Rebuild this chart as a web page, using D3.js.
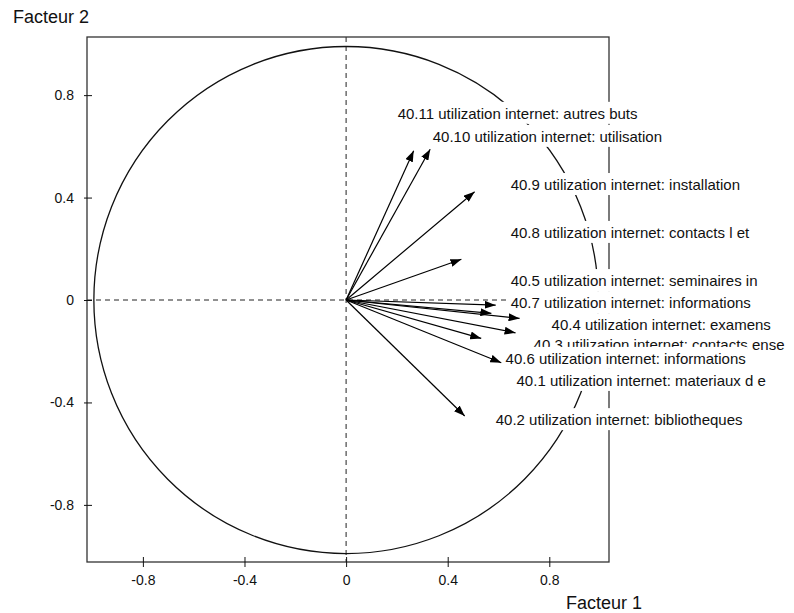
<!DOCTYPE html>
<html>
<head>
<meta charset="utf-8">
<script src="https://cdn.jsdelivr.net/npm/d3@7"></script>
<style>
  html, body { margin: 0; padding: 0; background: #fff; }
  svg { display: block; }
  text { font-family: "Liberation Sans", Arial, sans-serif; fill: #111; }
</style>
</head>
<body>
<svg id="chart" width="794" height="613"></svg>
<script>
// ---- data ----
const variables = ["40.11", "40.10", "40.9", "40.8", "40.5", "40.7", "40.4", "40.3", "40.1", "40.6", "40.2"];
const labels = [
  "40.11 utilization internet: autres buts",
  "40.10 utilization internet: utilisation",
  "40.9 utilization internet: installation",
  "40.8 utilization internet: contacts l et",
  "40.5 utilization internet: seminaires in",
  "40.7 utilization internet: informations",
  "40.4 utilization internet: examens",
  "40.3 utilization internet: contacts ense",
  "40.1 utilization internet: materiaux d e",
  "40.6 utilization internet: informations",
  "40.2 utilization internet: bibliotheques"
];
const factor1 = [0.266, 0.331, 0.506, 0.454, 0.589, 0.572, 0.683, 0.667, 0.532, 0.611, 0.467];
const factor2 = [0.583, 0.589, 0.423, 0.159, -0.020, -0.052, -0.072, -0.128, -0.150, -0.245, -0.453];
const tickValues = [-0.8, -0.4, 0, 0.4, 0.8];
const tickLabels = ["-0.8", "-0.4", "0", "0.4", "0.8"];
const axisTitleX = "Facteur 1";
const axisTitleY = "Facteur 2";

// ---- layout (label anchor: text start, vertical centre; in data units) ----
const labelPos = {
  "40.11": [0.203, 0.727],
  "40.10": [0.341, 0.637],
  "40.9":  [0.648, 0.449],
  "40.8":  [0.648, 0.262],
  "40.5":  [0.648, 0.074],
  "40.7":  [0.648, -0.012],
  "40.4":  [0.809, -0.098],
  "40.3":  [0.738, -0.176],
  "40.6":  [0.628, -0.230],
  "40.1":  [0.671, -0.316],
  "40.2":  [0.589, -0.469]
};
const drawOrder = ["40.11", "40.10", "40.9", "40.8", "40.5", "40.7", "40.4", "40.3", "40.6", "40.1", "40.2"];

// ---- chart ----
const svg = d3.select("#chart");
const x = d3.scaleLinear().domain([-1.020, 1.035]).range([87, 609]);
const y = d3.scaleLinear().domain([-1.023, 1.027]).range([562, 37]);

// dashed zero lines
svg.append("line").attr("x1", x.range()[0]).attr("x2", x.range()[1])
  .attr("y1", y(0)).attr("y2", y(0))
  .attr("stroke", "#222").attr("stroke-width", 1).attr("stroke-dasharray", "5,4");
svg.append("line").attr("x1", x(0)).attr("x2", x(0))
  .attr("y1", y.range()[1]).attr("y2", y.range()[0])
  .attr("stroke", "#222").attr("stroke-width", 1).attr("stroke-dasharray", "5,4");

// correlation circle
svg.append("ellipse")
  .attr("cx", x(0)).attr("cy", y(0))
  .attr("rx", (x(1) - x(0)) * 0.993).attr("ry", (y(0) - y(1)) * 0.99)
  .attr("fill", "none").attr("stroke", "#111").attr("stroke-width", 1.3);

// frame
svg.append("rect")
  .attr("x", x.range()[0]).attr("y", y.range()[1])
  .attr("width", x.range()[1] - x.range()[0]).attr("height", y.range()[0] - y.range()[1])
  .attr("fill", "none").attr("stroke", "#333").attr("stroke-width", 1.3);

// axes
const xAxis = d3.axisBottom(x).tickValues(tickValues)
  .tickFormat((d, i) => tickLabels[i]).tickSizeInner(5).tickSizeOuter(0).tickPadding(8);
const gx = svg.append("g").attr("transform", `translate(0,${y.range()[0]})`).call(xAxis);
gx.select(".domain").remove();
gx.selectAll(".tick line").attr("y1", -5).attr("y2", 5).attr("stroke", "#111");
gx.selectAll(".tick text").attr("font-size", 14).attr("fill", "#111")
  .attr("font-family", "Liberation Sans, Arial, sans-serif");

const yAxis = d3.axisLeft(y).tickValues(tickValues)
  .tickFormat((d, i) => tickLabels[i]).tickSizeInner(4).tickSizeOuter(0).tickPadding(9);
const gy = svg.append("g").attr("transform", `translate(${x.range()[0]},0)`).call(yAxis);
gy.select(".domain").remove();
gy.selectAll(".tick line").attr("x1", -3).attr("x2", 5).attr("stroke", "#111");
gy.selectAll(".tick text").attr("font-size", 14).attr("fill", "#111")
  .attr("font-family", "Liberation Sans, Arial, sans-serif");

// arrowhead marker
svg.append("defs").append("marker")
  .attr("id", "head").attr("viewBox", "0 0 11 8")
  .attr("refX", 11).attr("refY", 4)
  .attr("markerWidth", 11).attr("markerHeight", 8)
  .attr("markerUnits", "userSpaceOnUse")
  .attr("orient", "auto")
  .append("path").attr("d", "M0,0 L11,4 L0,8 Z").attr("fill", "#000");

// arrows
svg.append("g").selectAll("line").data(variables).join("line")
  .attr("x1", x(0)).attr("y1", y(0))
  .attr("x2", (d, i) => x(factor1[i])).attr("y2", (d, i) => y(factor2[i]))
  .attr("stroke", "#000").attr("stroke-width", 1.2)
  .attr("marker-end", "url(#head)");

// labels with white background
const lg = svg.append("g");
drawOrder.forEach(v => {
  const i = variables.indexOf(v);
  const [lx, ly] = labelPos[v];
  const g = lg.append("g");
  const bg = g.append("rect").attr("fill", "#fff");
  const t = g.append("text")
    .attr("x", x(lx)).attr("y", y(ly))
    .attr("dy", "0.35em")
    .attr("font-size", 15)
    .text(labels[i]);
  const bb = t.node().getBBox();
  bg.attr("x", bb.x - 2).attr("y", y(ly) - 12).attr("width", bb.width + 4).attr("height", 22);
});

// titles
svg.append("text").attr("x", 13).attr("y", 23).attr("font-size", 18).text(axisTitleY);
svg.append("text").attr("x", 566).attr("y", 609).attr("font-size", 18).text(axisTitleX);
</script>
</body>
</html>
